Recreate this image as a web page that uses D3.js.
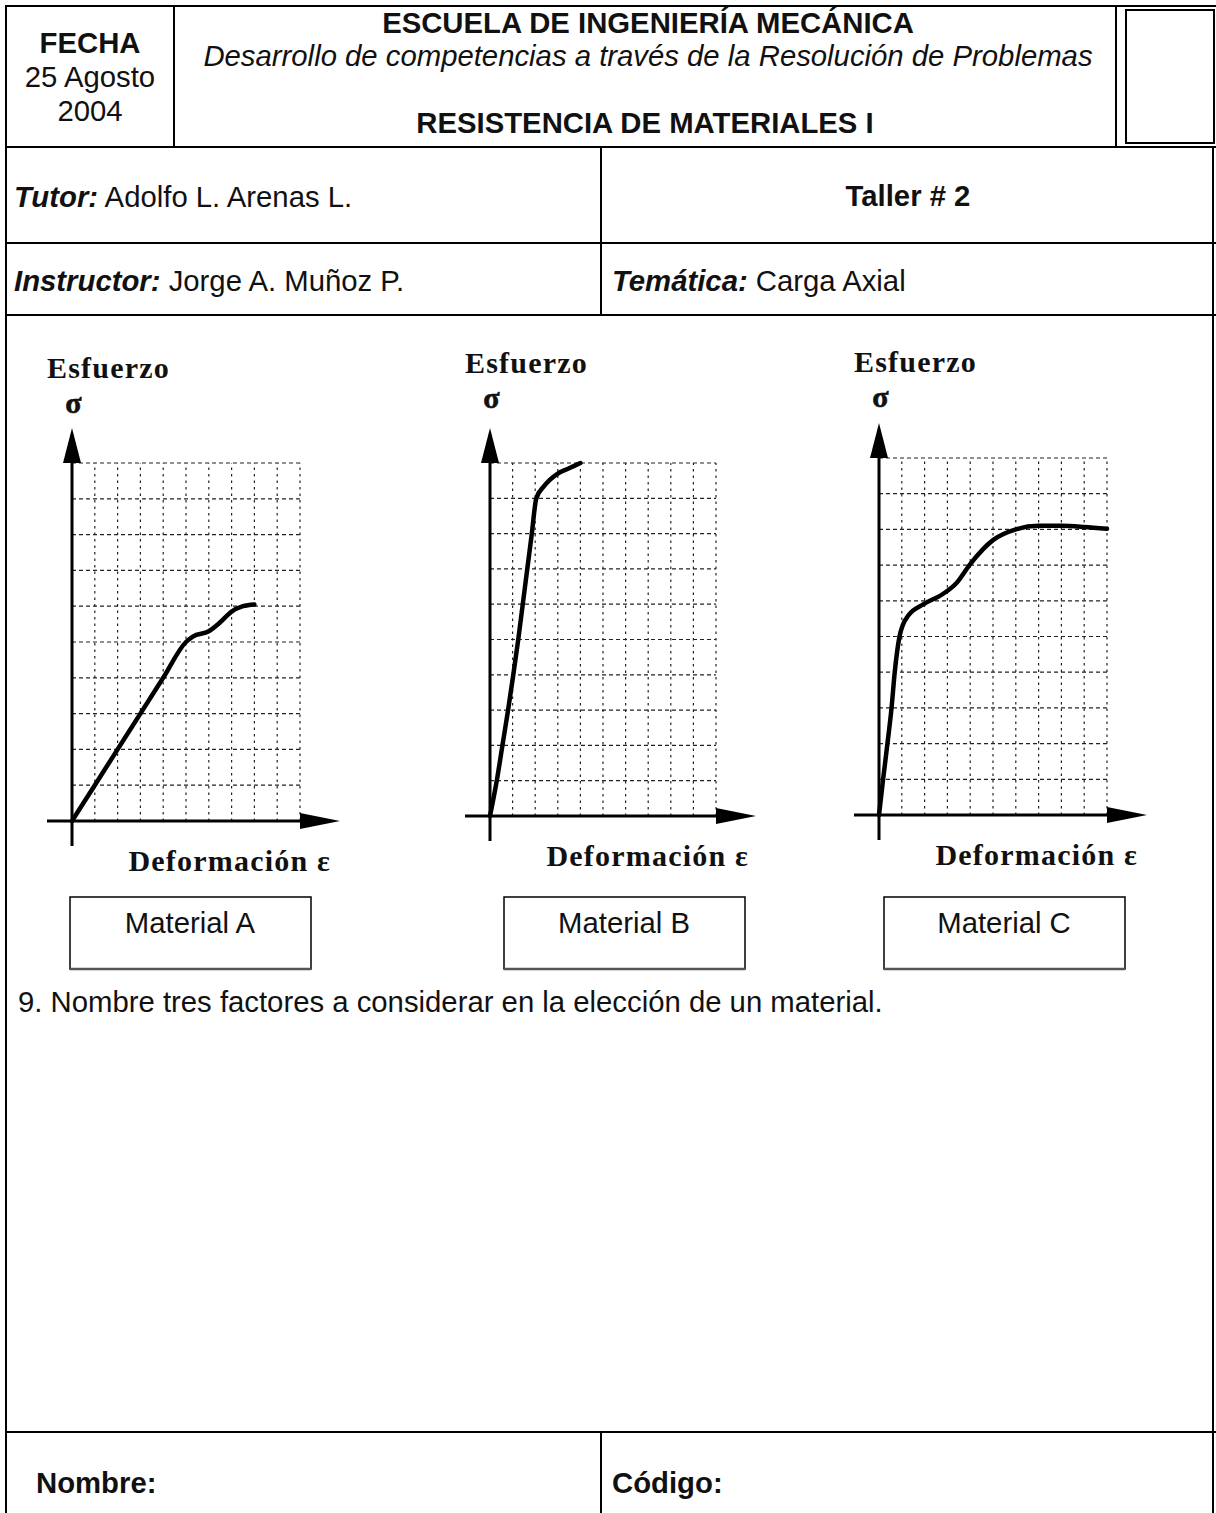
<!DOCTYPE html>
<html>
  <head>
    <meta charset="UTF-8">
    <style>
      body {
        margin: 0;
        background: white;
        font-family: "Liberation Sans", Arial, sans-serif;
      }

      svg text {
        fill: #111;
      }

      .form text {
        font-size: 29.3px;
      }

      .serif {
        font-family: "Liberation Serif", "Times New Roman", serif;
        font-weight: bold;
        font-size: 30px;
        letter-spacing: 1.2px;
      }

      .serif.sigma {
        font-size: 30px;
        stroke: #111;
        stroke-width: 0.6;
      }

      .grid line {
        stroke: #222;
        stroke-width: 1.2;
      }
    </style>
    <script src="https://d3js.org/d3.v7.min.js"></script>
  </head>

  <body>
    <svg id="chart"></svg>

    <script type="text/javascript">
      // grid divisions shared by the three diagrams
      const gridTicks = [1, 2, 3, 4, 5, 6, 7, 8, 9, 10]

      const materials = ['Material A', 'Material B', 'Material C']

      // curves in grid units (deformación, esfuerzo)
      const strainA = [0, 1, 2, 3, 4, 5, 5.3, 6, 6.5, 7, 7.5, 8]
      const stressA = [0, 1, 2, 3, 4, 5, 5.15, 5.3, 5.55, 5.85, 6.0, 6.05]

      const strainB = [0, 0.3, 0.55, 0.8, 1.03, 1.25, 1.45, 1.65, 1.85, 2.05, 2.4, 3.0, 3.5, 4.0]
      const stressB = [0, 1, 2, 3, 4, 5, 6, 7, 8, 9, 9.35, 9.7, 9.85, 10]

      const strainC = [0, 0.18, 0.37, 0.55, 0.69, 0.9, 1.05, 1.3, 1.94, 2.8, 3.4, 4.0, 5.0, 6.0, 7.0, 8.0, 9.0, 10]
      const stressC = [0, 1, 2, 3, 4, 5, 5.33, 5.6, 5.9, 6.19, 6.5, 7.03, 7.7, 8.0, 8.1, 8.1, 8.07, 8.02]

      function getChartConfig() {
        let width = 1216
        let height = 1513

        let container = d3.select('#chart')
          .attr('width', width)
          .attr('height', height)

        // origin = where the axes cross, box = material label box
        let charts = [
          { origin: [72, 821], size: [228, 358], box: [70, 897], strain: strainA, stress: stressA },
          { origin: [490, 816], size: [226, 353], box: [504, 897], strain: strainB, stress: stressB },
          { origin: [879, 815], size: [228, 357], box: [884, 897], strain: strainC, stress: stressC }
        ]

        return { width, height, container, charts }
      }

      function drawForm(config) {
        let g = config.container.append('g').attr('class', 'form')
        let lw = 2

        let hline = (y, x1, x2) => g.append('line')
          .attr('x1', x1).attr('x2', x2).attr('y1', y).attr('y2', y)
          .attr('stroke', '#000').attr('stroke-width', lw)
        let vline = (x, y1, y2) => g.append('line')
          .attr('x1', x).attr('x2', x).attr('y1', y1).attr('y2', y2)
          .attr('stroke', '#000').attr('stroke-width', lw)

        hline(6, 5, 1216)
        hline(147, 5, 1216)
        hline(243, 5, 1216)
        hline(315, 5, 1216)
        hline(1432, 5, 1216)
        vline(6, 5, 1513)
        vline(1213, 147, 1513)
        vline(174, 6, 147)
        vline(1116, 6, 147)
        vline(601, 147, 315)
        vline(601, 1432, 1513)

        g.append('rect')
          .attr('x', 1126).attr('y', 10)
          .attr('width', 88).attr('height', 133)
          .attr('fill', 'none').attr('stroke', '#000').attr('stroke-width', lw)

        let text = (x, y, str, anchor, weight, style) => g.append('text')
          .attr('x', x).attr('y', y)
          .attr('text-anchor', anchor || 'start')
          .style('font-weight', weight || 'normal')
          .style('font-style', style || 'normal')
          .text(str)

        text(90, 53, 'FECHA', 'middle', 'bold')
        text(90, 87, '25 Agosto', 'middle')
        text(90, 121, '2004', 'middle')

        text(648, 33, 'ESCUELA DE INGENIERÍA MECÁNICA', 'middle', 'bold')
        text(648, 66, 'Desarrollo de competencias a través de la Resolución de Problemas', 'middle', 'normal', 'italic')
        text(645, 133, 'RESISTENCIA DE MATERIALES I', 'middle', 'bold')

        let labelled = (x, y, label, value) => {
          let t = g.append('text').attr('x', x).attr('y', y)
          t.append('tspan').style('font-weight', 'bold').style('font-style', 'italic').text(label)
          t.append('tspan').text(' ' + value)
        }
        labelled(14, 207, 'Tutor:', 'Adolfo L. Arenas L.')
        labelled(14, 291, 'Instructor:', 'Jorge A. Muñoz P.')
        labelled(612, 291, 'Temática:', 'Carga Axial')
        text(908, 206, 'Taller # 2', 'middle', 'bold')

        text(18, 1012, '9. Nombre tres factores a considerar en la elección de un material.')

        text(36, 1493, 'Nombre:', 'start', 'bold')
        text(612, 1493, 'Código:', 'start', 'bold')
      }

      function drawChart(chart, name, config) {
        let [ox, oy] = chart.origin
        let [w, h] = chart.size

        let x = d3.scaleLinear().domain([0, 10]).range([ox, ox + w])
        let y = d3.scaleLinear().domain([0, 10]).range([oy, oy - h])

        let g = config.container.append('g').attr('class', 'diagram')

        let grid = g.append('g').attr('class', 'grid')
        grid.selectAll('line.h')
          .data(gridTicks)
          .enter()
          .append('line')
          .attr('class', 'h')
          .attr('x1', x(0)).attr('x2', x(10))
          .attr('y1', d => y(d)).attr('y2', d => y(d))
          .attr('stroke-dasharray', '4 3')
        grid.selectAll('line.v')
          .data(gridTicks)
          .enter()
          .append('line')
          .attr('class', 'v')
          .attr('y1', y(0)).attr('y2', y(10))
          .attr('x1', d => x(d)).attr('x2', d => x(d))
          .attr('stroke-dasharray', '2.5 4')

        // axes with arrow heads
        let axisTop = y(10) - 35
        let axisRight = x(10) + 40
        g.append('line')
          .attr('x1', ox).attr('x2', ox)
          .attr('y1', oy + 25).attr('y2', axisTop + 20)
          .attr('stroke', '#000').attr('stroke-width', 3)
        g.append('line')
          .attr('x1', ox - 25).attr('x2', axisRight - 20)
          .attr('y1', oy).attr('y2', oy)
          .attr('stroke', '#000').attr('stroke-width', 3)
        g.append('path')
          .attr('d', `M${ox},${axisTop} L${ox + 9},${y(10)} L${ox - 9},${y(10)} Z`)
          .attr('fill', '#000')
        g.append('path')
          .attr('d', `M${axisRight},${oy} L${x(10)},${oy - 8} L${x(10)},${oy + 8} Z`)
          .attr('fill', '#000')

        let points = chart.strain.map((s, i) => [s, chart.stress[i]])
        let line = d3.line()
          .x(d => x(d[0]))
          .y(d => y(d[1]))
          .curve(d3.curveMonotoneX)

        g.append('path')
          .datum(points)
          .attr('d', line)
          .attr('fill', 'none')
          .attr('stroke', '#000')
          .attr('stroke-width', 4.5)
          .attr('stroke-linejoin', 'round')
          .attr('stroke-linecap', 'round')

        g.append('text')
          .attr('class', 'serif')
          .attr('x', ox - 25).attr('y', oy - 443)
          .text('Esfuerzo')
        g.append('text')
          .attr('class', 'serif sigma')
          .attr('x', ox + 2).attr('y', oy - 408)
          .attr('text-anchor', 'middle')
          .text('σ')
        g.append('text')
          .attr('class', 'serif')
          .attr('x', ox + 259).attr('y', oy + 50)
          .attr('text-anchor', 'end')
          .text('Deformación ε')

        // label box under the diagram
        let [bx, by] = chart.box
        g.append('rect')
          .attr('x', bx).attr('y', by)
          .attr('width', 241).attr('height', 72)
          .attr('fill', 'none')
          .attr('stroke', '#000')
          .attr('stroke-width', 1.5)
        g.append('line')
          .attr('x1', bx).attr('x2', bx + 241)
          .attr('y1', by + 72).attr('y2', by + 72)
          .attr('stroke', '#555').attr('stroke-width', 2.5)
        g.append('text')
          .attr('x', bx + 120).attr('y', by + 36)
          .attr('text-anchor', 'middle')
          .style('font-size', '29.3px')
          .text(name)
      }

      let config = getChartConfig()
      drawForm(config)
      config.charts.forEach((c, i) => drawChart(c, materials[i], config))
    </script>
  </body>
</html>
